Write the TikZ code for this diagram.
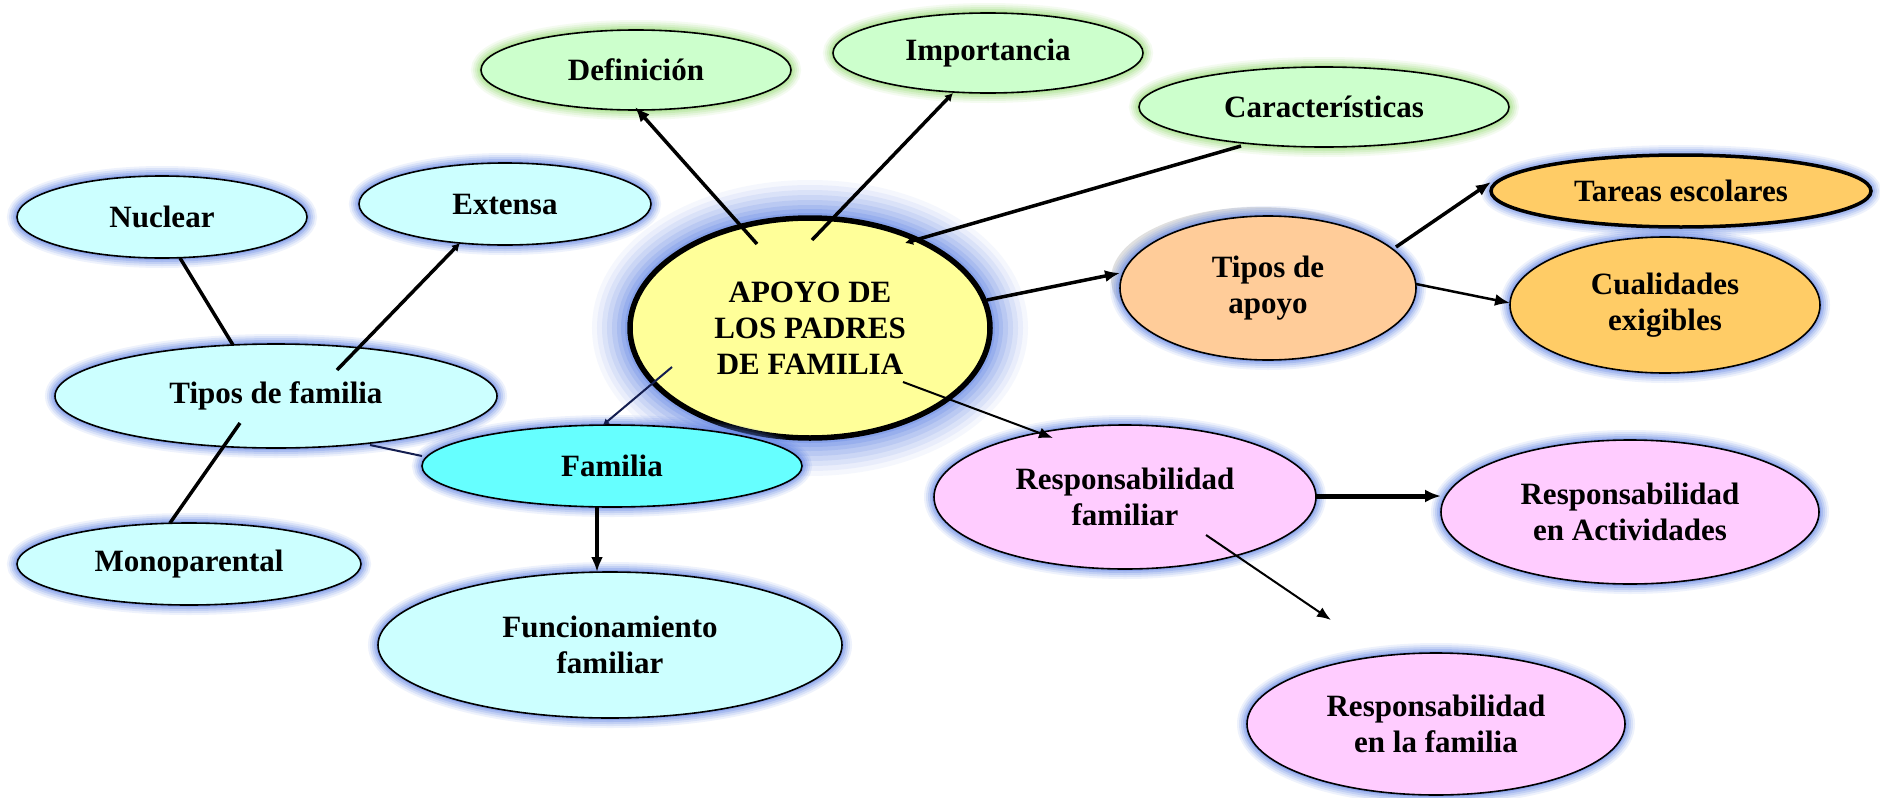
\documentclass[tikz,border=0pt]{standalone}
\usepackage{fontspec}
\setmainfont{Liberation Serif}
\usetikzlibrary{shapes.geometric,arrows.meta,calc,shadows}
\definecolor{cyanl}{HTML}{CCFFFF}
\definecolor{cyand}{HTML}{66FFFF}
\definecolor{greenl}{HTML}{CCFFCC}
\definecolor{yell}{HTML}{FFFF99}
\definecolor{peach}{HTML}{FFCC99}
\definecolor{goldc}{HTML}{FFCC66}
\definecolor{pinkl}{HTML}{FFCCFF}
\definecolor{glowb}{RGB}{95,130,230}
\definecolor{glowg}{RGB}{150,220,115}
\definecolor{navyc}{RGB}{20,30,80}
\begin{document}
\begin{tikzpicture}[x=1pt,y=-1pt,
  bub/.style={ellipse, draw=black, line width=1.6pt, inner sep=0pt, outer sep=0pt,
    align=center, font=\fontsize{31}{36}\selectfont\bfseries},
  gl/.style={preaction={draw=#1, line width=20pt, draw opacity=0.10},
    preaction={draw=#1, line width=16pt, draw opacity=0.14},
    preaction={draw=#1, line width=12pt, draw opacity=0.18},
    preaction={draw=#1, line width=8pt, draw opacity=0.25},
    preaction={draw=#1, line width=4pt, draw opacity=0.35}},
  gb/.style={gl=glowb},
  gg/.style={gl=glowg},
  gbig/.style={preaction={draw=glowb, line width=76pt, draw opacity=0.06},
    preaction={draw=glowb, line width=66pt, draw opacity=0.08},
    preaction={draw=glowb, line width=56pt, draw opacity=0.10},
    preaction={draw=glowb, line width=46pt, draw opacity=0.12},
    preaction={draw=glowb, line width=36pt, draw opacity=0.15},
    preaction={draw=glowb, line width=26pt, draw opacity=0.18},
    preaction={draw=glowb, line width=18pt, draw opacity=0.22},
    preaction={draw=glowb, line width=10pt, draw opacity=0.3}},
  con/.style={line width=3.5pt, -{Latex[length=15pt,width=12pt]}},
  conthin/.style={line width=2pt, -{Latex[length=14pt,width=11pt]}},
  consmall/.style={line width=3.5pt, -{Latex[length=8pt,width=9pt]}},
  plain/.style={line width=3.5pt}
]
\useasboundingbox[fill=white] (0,0) rectangle (1880,798);

% central node
\node[bub, gbig, fill=yell, line width=5.5pt, minimum width=360, minimum height=220] (apoyo) at (810,328) {APOYO DE\\LOS PADRES\\DE FAMILIA};

% top green nodes
\node[bub, gg, fill=greenl, minimum width=310, minimum height=80] (def) at (636,70) {Definición};
\node[bub, gg, fill=greenl, minimum width=310, minimum height=80] (imp) at (988,53) {Importancia};
\node[bub, gg, fill=greenl, minimum width=370, minimum height=80] (car) at (1324,107) {Características};

% left cyan nodes
\node[bub, gb, fill=cyanl, minimum width=290, minimum height=82] (nuc) at (162,217) {Nuclear};
\node[bub, gb, fill=cyanl, minimum width=292, minimum height=82] (ext) at (505,204) {Extensa};
\node[bub, gb, fill=cyanl, minimum width=442, minimum height=104] (tf) at (276,396) {Tipos de familia};
\node[bub, gb, fill=cyanl, minimum width=344, minimum height=82] (mono) at (189,564) {Monoparental};
\node[bub, gb, fill=cyand, minimum width=380, minimum height=82] (fam) at (612,466) {Familia};
\node[bub, gb, fill=cyanl, minimum width=464, minimum height=146] (func) at (610,645) {Funcionamiento\\familiar};

% right orange nodes
\node[bub, drop shadow={shadow xshift=-9pt, shadow yshift=9pt, fill=black!12, opacity=1}, gb, fill=peach, minimum width=296, minimum height=144] (tap) at (1268,288) {Tipos de\\apoyo};
\node[bub, gb, fill=goldc, line width=3.5pt, minimum width=380, minimum height=72] (tar) at (1681,191) {Tareas escolares};
\node[bub, gb, fill=goldc, minimum width=310, minimum height=136] (cual) at (1665,305) {Cualidades\\exigibles};

% pink nodes
\node[bub, gb, fill=pinkl, minimum width=382, minimum height=144] (rf) at (1125,497) {Responsabilidad\\familiar};
\node[bub, gb, fill=pinkl, minimum width=378, minimum height=144] (ra) at (1630,512) {Responsabilidad\\en Actividades};
\node[bub, gb, fill=pinkl, minimum width=378, minimum height=142] (rfam) at (1436,724) {Responsabilidad\\en la familia};
\coordinate (rfend) at (1331,620);

% connectors
\draw[con] ($(apoyo)+(-53,-84)$) -- ($(def)+(-1,37)$);
\draw[consmall] ($(apoyo)+(2,-88)$) -- ($(imp)+(-35,40)$);
\draw[consmall] ($(car)+(-83,39)$) -- ($(apoyo)+(95,-85)$);
\draw[con] ($(apoyo)+(177,-28)$) -- ($(tap)+(-148,-15)$);
\draw[con] ($(tap)+(128,-41)$) -- ($(tar)+(-190,-9)$);
\draw[line width=2.5pt, -{Latex[length=15pt,width=12pt]}] ($(tap)+(148,-4)$) -- ($(cual)+(-155,-2)$);
\draw[conthin] ($(apoyo)+(93,54)$) -- ($(rf)+(-72,-59)$);
\draw[line width=5pt, -{Latex[length=16pt,width=13pt]}] ($(rf)+(191,-1)$) -- ($(ra)+(-189,-16)$);
\draw[conthin] ($(rf)+(81,38)$) -- (rfend);
\draw[line width=2pt, draw=navyc, -{Latex[length=6pt,width=7pt]}] ($(apoyo)+(-138,39)$) -- ($(fam)+(-9,-41)$);
\draw[con] ($(fam)+(-15,41)$) -- ($(func)+(-13,-73)$);
\draw[line width=2pt, draw=navyc] ($(tf)+(94,49)$) -- ($(fam)+(-190,-10)$);
\draw[plain] ($(nuc)+(18,41)$) -- ($(tf)+(-43,-51)$);
\draw[consmall] ($(tf)+(61,-26)$) -- ($(ext)+(-45,39)$);
\draw[plain] ($(tf)+(-36,27)$) -- ($(mono)+(-19,-41)$);
\end{tikzpicture}
\end{document}
